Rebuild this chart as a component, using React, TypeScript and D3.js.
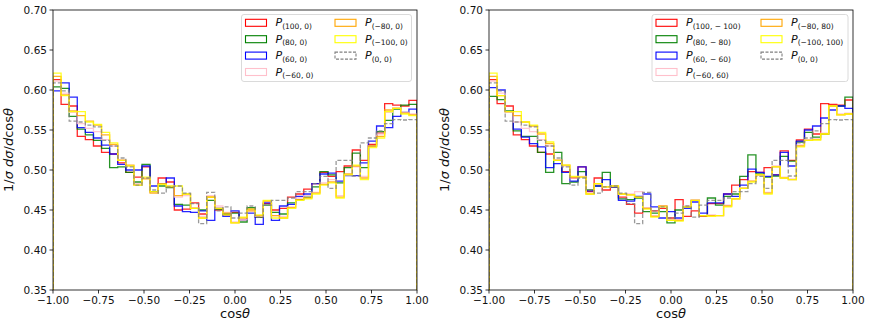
import React from "react";
import * as d3 from "d3";

// cos(theta) bins: 45 equal bins on [-1, 1]
const binCount = 45;
const xTicks = [-1, -0.75, -0.5, -0.25, 0, 0.25, 0.5, 0.75, 1];
const yTicks = [0.35, 0.4, 0.45, 0.5, 0.55, 0.6, 0.65, 0.7];

// P(0,0) is the same sample in both panels
const gray00 = [
  0.609, 0.599, 0.561, 0.560, 0.556, 0.554, 0.537, 0.530, 0.515, 0.504,
  0.481, 0.490, 0.475, 0.471, 0.479, 0.480, 0.471, 0.458, 0.433, 0.472,
  0.449, 0.454, 0.440, 0.446, 0.455, 0.441, 0.456, 0.462, 0.462, 0.465,
  0.473, 0.473, 0.483, 0.492, 0.477, 0.512, 0.512, 0.4925, 0.534, 0.540,
  0.549, 0.558, 0.563, 0.5625, 0.563,
];

// left panel
const leftRed = [
  0.613, 0.582, 0.580, 0.542, 0.538, 0.530, 0.522, 0.520, 0.509, 0.497,
  0.491, 0.504, 0.473, 0.490, 0.485, 0.450, 0.451, 0.459, 0.445, 0.466,
  0.450, 0.444, 0.447, 0.438, 0.451, 0.441, 0.458, 0.450, 0.452, 0.466,
  0.470, 0.476, 0.483, 0.497, 0.492, 0.498, 0.505, 0.525, 0.512, 0.532,
  0.546, 0.583, 0.581, 0.580, 0.587,
];
const leftGreen = [
  0.604, 0.602, 0.567, 0.551, 0.544, 0.537, 0.527, 0.503, 0.504, 0.497,
  0.485, 0.507, 0.473, 0.480, 0.478, 0.457, 0.456, 0.452, 0.450, 0.462,
  0.451, 0.445, 0.446, 0.435, 0.453, 0.441, 0.456, 0.447, 0.445, 0.459,
  0.463, 0.466, 0.479, 0.498, 0.494, 0.484, 0.503, 0.521, 0.503, 0.530,
  0.548, 0.562, 0.576, 0.581, 0.582,
];
const leftBlue = [
  0.599, 0.609, 0.591, 0.553, 0.547, 0.540, 0.531, 0.520, 0.507, 0.500,
  0.500, 0.505, 0.480, 0.483, 0.490, 0.455, 0.448, 0.447, 0.449, 0.437,
  0.452, 0.442, 0.449, 0.438, 0.446, 0.432, 0.459, 0.437, 0.455, 0.457,
  0.467, 0.470, 0.483, 0.495, 0.496, 0.486, 0.493, 0.493, 0.509, 0.536,
  0.555, 0.553, 0.567, 0.572, 0.576,
];
const leftPink = [
  0.611, 0.596, 0.572, 0.558, 0.552, 0.548, 0.538, 0.530, 0.513, 0.505,
  0.483, 0.490, 0.472, 0.482, 0.480, 0.466, 0.468, 0.453, 0.442, 0.468,
  0.455, 0.447, 0.435, 0.438, 0.449, 0.442, 0.461, 0.443, 0.442, 0.454,
  0.465, 0.468, 0.472, 0.484, 0.488, 0.468, 0.494, 0.504, 0.492, 0.530,
  0.545, 0.572, 0.578, 0.572, 0.570,
];
const leftOrange = [
  0.617, 0.594, 0.574, 0.568, 0.561, 0.556, 0.544, 0.532, 0.512, 0.506,
  0.481, 0.489, 0.471, 0.483, 0.479, 0.468, 0.470, 0.452, 0.440, 0.466,
  0.452, 0.446, 0.434, 0.440, 0.449, 0.443, 0.461, 0.443, 0.440, 0.453,
  0.463, 0.465, 0.471, 0.482, 0.485, 0.466, 0.495, 0.505, 0.490, 0.530,
  0.542, 0.575, 0.577, 0.571, 0.569,
];
const leftYellow = [
  0.621, 0.593, 0.573, 0.573, 0.560, 0.557, 0.547, 0.534, 0.512, 0.505,
  0.481, 0.491, 0.473, 0.482, 0.480, 0.480, 0.470, 0.452, 0.440, 0.466,
  0.452, 0.444, 0.434, 0.441, 0.451, 0.444, 0.462, 0.440, 0.440, 0.452,
  0.462, 0.464, 0.470, 0.481, 0.484, 0.465, 0.494, 0.506, 0.488, 0.528,
  0.540, 0.573, 0.577, 0.570, 0.568,
];

// right panel
const rightRed = [
  0.613, 0.583, 0.580, 0.544, 0.538, 0.530, 0.522, 0.520, 0.512, 0.498,
  0.490, 0.504, 0.473, 0.490, 0.475, 0.479, 0.466, 0.457, 0.446, 0.452,
  0.449, 0.452, 0.440, 0.463, 0.442, 0.449, 0.442, 0.458, 0.458, 0.470,
  0.481, 0.488, 0.498, 0.497, 0.503, 0.494, 0.524, 0.512, 0.5375, 0.551,
  0.545, 0.583, 0.582, 0.581, 0.5875,
];
const rightGreen = [
  0.592, 0.588, 0.574, 0.549, 0.542, 0.542, 0.522, 0.497, 0.522, 0.483,
  0.485, 0.498, 0.475, 0.480, 0.497, 0.479, 0.464, 0.463, 0.465, 0.448,
  0.446, 0.448, 0.434, 0.450, 0.454, 0.462, 0.443, 0.465, 0.456, 0.467,
  0.470, 0.492, 0.519, 0.495, 0.491, 0.4925, 0.517, 0.511, 0.535, 0.547,
  0.541, 0.545, 0.580, 0.580, 0.591,
];
const rightBlue = [
  0.603, 0.600, 0.573, 0.551, 0.541, 0.533, 0.529, 0.503, 0.508, 0.497,
  0.486, 0.504, 0.474, 0.480, 0.488, 0.479, 0.462, 0.461, 0.467, 0.470,
  0.454, 0.440, 0.448, 0.440, 0.452, 0.460, 0.446, 0.459, 0.459, 0.470,
  0.467, 0.481, 0.501, 0.497, 0.492, 0.494, 0.522, 0.505, 0.536, 0.550,
  0.555, 0.565, 0.575, 0.580, 0.577,
];
const rightPink = [
  0.611, 0.596, 0.572, 0.560, 0.552, 0.548, 0.538, 0.530, 0.513, 0.505,
  0.490, 0.492, 0.471, 0.482, 0.479, 0.480, 0.470, 0.470, 0.473, 0.452,
  0.443, 0.455, 0.438, 0.438, 0.455, 0.463, 0.443, 0.444, 0.443, 0.456,
  0.464, 0.478, 0.486, 0.494, 0.472, 0.505, 0.491, 0.489, 0.531, 0.538,
  0.539, 0.546, 0.580, 0.570, 0.571,
];
const rightOrange = [
  0.617, 0.593, 0.573, 0.568, 0.560, 0.555, 0.545, 0.533, 0.512, 0.506,
  0.491, 0.491, 0.470, 0.483, 0.479, 0.480, 0.470, 0.469, 0.466, 0.452,
  0.442, 0.455, 0.437, 0.437, 0.454, 0.462, 0.443, 0.443, 0.443, 0.455,
  0.464, 0.477, 0.486, 0.494, 0.471, 0.504, 0.490, 0.488, 0.530, 0.537,
  0.538, 0.545, 0.580, 0.569, 0.570,
];
const rightYellow = [
  0.621, 0.593, 0.573, 0.573, 0.560, 0.556, 0.547, 0.535, 0.512, 0.506,
  0.492, 0.491, 0.470, 0.483, 0.479, 0.480, 0.470, 0.469, 0.466, 0.451,
  0.441, 0.454, 0.437, 0.436, 0.454, 0.462, 0.443, 0.442, 0.443, 0.454,
  0.464, 0.477, 0.485, 0.494, 0.470, 0.504, 0.490, 0.488, 0.529, 0.537,
  0.5375, 0.545, 0.580, 0.569, 0.570,
];

const colors = ["red", "green", "blue", "pink", "orange", "yellow", "gray"];

const leftLabels = ["(100, 0)", "(80, 0)", "(60, 0)", "(\u221260, 0)", "(\u221280, 0)", "(\u2212100, 0)", "(0, 0)"];
const rightLabels = ["(100, \u2212 100)", "(80, \u2212 80)", "(60, \u2212 60)", "(\u221260, 60)", "(\u221280, 80)", "(\u2212100, 100)", "(0, 0)"];

const leftSeries = [leftRed, leftGreen, leftBlue, leftPink, leftOrange, leftYellow, gray00];
const rightSeries = [rightRed, rightGreen, rightBlue, rightPink, rightOrange, rightYellow, gray00];

const W = 872;
const H = 327;
const top = 10;
const bottom = 290;
const font = "DejaVu Sans, sans-serif";

function Panel({ x0, x1, series, labels, legend, id }) {
  const x = d3.scaleLinear().domain([-1, 1]).range([x0, x1]);
  const y = d3.scaleLinear().domain([0.35, 0.7]).range([bottom, top]);
  const edges = d3.range(binCount + 1).map((i) => -1 + (2 * i) / binCount);

  const stepPath = (vals) => {
    const pts = [[edges[0], 0]];
    vals.forEach((v, i) => {
      pts.push([edges[i], v]);
      pts.push([edges[i + 1], v]);
    });
    pts.push([edges[binCount], 0]);
    return d3.line().x((d) => x(d[0])).y((d) => y(d[1]))(pts);
  };

  const fmtX = d3.format(".2f");
  const fmtY = d3.format(".2f");
  const minus = (s) => s.replace("-", "\u2212");

  return (
    <g>
      <defs>
        <clipPath id={id}>
          <rect x={x0} y={top} width={x1 - x0} height={bottom - top} />
        </clipPath>
      </defs>
      <rect x={x0} y={top} width={x1 - x0} height={bottom - top} fill="#fff" />
      <g clipPath={`url(#${id})`}>
        {series.map((vals, k) => (
          <path
            key={k}
            d={stepPath(vals)}
            fill="none"
            stroke={colors[k]}
            strokeWidth={1.3}
            strokeOpacity={k === 6 ? 0.8 : 0.85}
            strokeDasharray={k === 6 ? "4 2" : undefined}
          />
        ))}
      </g>
      <rect x={x0} y={top} width={x1 - x0} height={bottom - top} fill="none" stroke="#000" strokeWidth={0.8} />
      {xTicks.map((t) => (
        <g key={t}>
          <line x1={x(t)} x2={x(t)} y1={bottom} y2={bottom + 3.5} stroke="#000" strokeWidth={0.8} />
          <text x={x(t)} y={bottom + 14} textAnchor="middle" fontSize={10.5} fontFamily={font} fill="#111">
            {minus(fmtX(t))}
          </text>
        </g>
      ))}
      {yTicks.map((t) => (
        <g key={t}>
          <line x1={x0 - 3.5} x2={x0} y1={y(t)} y2={y(t)} stroke="#000" strokeWidth={0.8} />
          <text x={x0 - 6} y={y(t) + 3.8} textAnchor="end" fontSize={10.5} fontFamily={font} fill="#111">
            {fmtY(t)}
          </text>
        </g>
      ))}
      <text x={(x0 + x1) / 2} y={318} textAnchor="middle" fontSize={13} fontFamily={font} fill="#111">
        cos<tspan fontStyle="italic">θ</tspan>
      </text>
      <text
        transform={`translate(${x0 - 40},${(top + bottom) / 2}) rotate(-90)`}
        textAnchor="middle"
        fontSize={13}
        fontFamily={font}
        fill="#111"
      >
        1/<tspan fontStyle="italic">σ d</tspan>
        <tspan fontStyle="italic">σ</tspan>/<tspan fontStyle="italic">d</tspan>cos
        <tspan fontStyle="italic">θ</tspan>
      </text>
      {/* legend */}
      <rect
        x={legend.x}
        y={legend.y}
        width={legend.w}
        height={legend.h}
        rx={2.5}
        fill="#fff"
        fillOpacity={0.8}
        stroke="#d0d0d0"
        strokeWidth={0.8}
      />
      {labels.map((lab, k) => {
        const col = k < 4 ? 0 : 1;
        const row = k < 4 ? k : k - 4;
        const sx = legend.x + 4 + col * legend.colGap;
        const cy = legend.y + 8.3 + row * 16.4;
        return (
          <g key={lab}>
            <rect
              x={sx}
              y={cy - 3.5}
              width={21}
              height={7}
              fill="none"
              stroke={colors[k]}
              strokeWidth={1.1}
              strokeDasharray={k === 6 ? "3 1.5" : undefined}
            />
            <text x={sx + 30} y={cy + 3.5} fontSize={11} fontFamily={font} fill="#111">
              <tspan fontStyle="italic">P</tspan>
              <tspan fontSize={7.5} dy={2.5}>{lab}</tspan>
            </text>
          </g>
        );
      })}
    </g>
  );
}

export default function App() {
  return (
    <svg
      width={W}
      height={H}
      style={{ position: "absolute", left: 0, top: 0, background: "#fff" }}
    >
      <Panel
        id="clipL"
        x0={53}
        x1={417}
        series={leftSeries}
        labels={leftLabels}
        legend={{ x: 241.5, y: 14.5, w: 170, h: 67, colGap: 89.5 }}
      />
      <Panel
        id="clipR"
        x0={489}
        x1={853}
        series={rightSeries}
        labels={rightLabels}
        legend={{ x: 652, y: 14.5, w: 196, h: 67, colGap: 105 }}
      />
    </svg>
  );
}
